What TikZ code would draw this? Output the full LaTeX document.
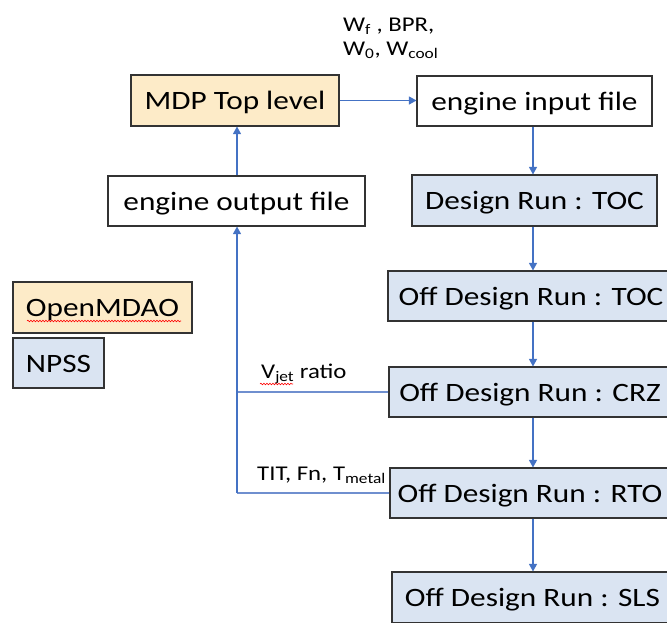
\documentclass[tikz,border=0pt]{standalone}
\usepackage{fontspec}
\setmainfont{Carlito}[FakeStretch=1.18]
\usetikzlibrary{arrows.meta,decorations.pathmorphing}
\definecolor{fbord}{HTML}{333333}
\definecolor{forange}{HTML}{FDEBC8}
\definecolor{fblue}{HTML}{DAE4F2}
\definecolor{farrow}{HTML}{4472C4}
\definecolor{fline}{HTML}{6F8FCF}
\begin{document}
\begin{tikzpicture}[x=1pt,y=-1pt,
  box/.style={draw=fbord,line width=1.1pt,inner sep=0pt,
    font=\fontsize{26.5}{30}\selectfont,text height=19pt,text depth=1pt},
  wbox/.style={box,fill=white},
  obox/.style={box,fill=forange},
  bbox/.style={box,fill=fblue},
  lbl/.style={inner sep=0pt,font=\fontsize{21}{24}\selectfont,anchor=base west},
  arr/.style={draw=farrow,line width=1.2pt,-{Triangle[width=8pt,length=7.5pt]}},
  fbl/.style={draw=fline,line width=1.2pt},
  squig/.style={draw=red,line width=0.6pt,decorate,
    decoration={snake,amplitude=0.8pt,segment length=3pt}}]
\useasboundingbox (0,0) rectangle (667,622);
\clip (0,0) rectangle (667,622);

% boxes
\node[obox,minimum width=208pt,minimum height=51pt] (mdp) at (235,100.5) {MDP Top level};
\node[wbox,minimum width=235pt,minimum height=50pt] (input) at (534.5,101) {engine input file};
\node[wbox,minimum width=257pt,minimum height=50pt] (output) at (236.5,201) {engine output file};
\node[bbox,minimum width=245pt,minimum height=51pt] (design) at (534.5,200.5) {Design Run : TOC};
\node[bbox,minimum width=286pt,minimum height=50pt] (offtoc) at (531,296) {Off Design Run : TOC};
\node[bbox,minimum width=282pt,minimum height=50pt] (crz) at (530,392) {Off Design Run : CRZ};
\node[bbox,minimum width=280pt,minimum height=50pt] (rto) at (530,493) {Off Design Run : RTO};
\node[bbox,minimum width=281pt,minimum height=51pt] (sls) at (532.5,597.5) {Off Design Run : SLS};
\node[obox,minimum width=179pt,minimum height=51pt] (omdao) at (102.5,307.5) {OpenMDAO};
\node[bbox,minimum width=91pt,minimum height=50pt] (npss) at (58.5,363) {NPSS};

\coordinate (col) at (533,0);
\coordinate (fb) at (237,0);

% main flow
\draw[arr] (mdp.east) -- (mdp.east -| input.west);
\draw[arr] (input.south -| col) -- (design.north -| col);
\draw[arr] (design.south -| col) -- (offtoc.north -| col);
\draw[arr] (offtoc.south -| col) -- (crz.north -| col);
\draw[arr] (crz.south -| col) -- (rto.north -| col);
\draw[arr] (rto.south -| col) -- (sls.north -| col);

% feedback
\draw[arr] (output.north -| fb) -- (mdp.south -| fb);
\draw[fbl] (crz.west) -- (crz.west -| fb);
\draw[fbl] (rto.west) -- (rto.west -| fb);
\draw[arr] (rto.west -| fb) -- (output.south -| fb);

% labels
\node[lbl] (l1) at (343,31) {W\textsubscript{f} , BPR,};
\node[lbl] (l2) at (343,55) {W\textsubscript{0}, W\textsubscript{cool}};
\node[lbl] (l3) at (261,378) {V\textsubscript{jet} ratio};
\node[lbl] (l4) at (257,480) {TIT, Fn, T\textsubscript{metal}};

% spelling marks
\draw[squig] (27,321) -- (181,321);
\draw[squig] (260,384) -- (293,384);
\end{tikzpicture}
\end{document}
